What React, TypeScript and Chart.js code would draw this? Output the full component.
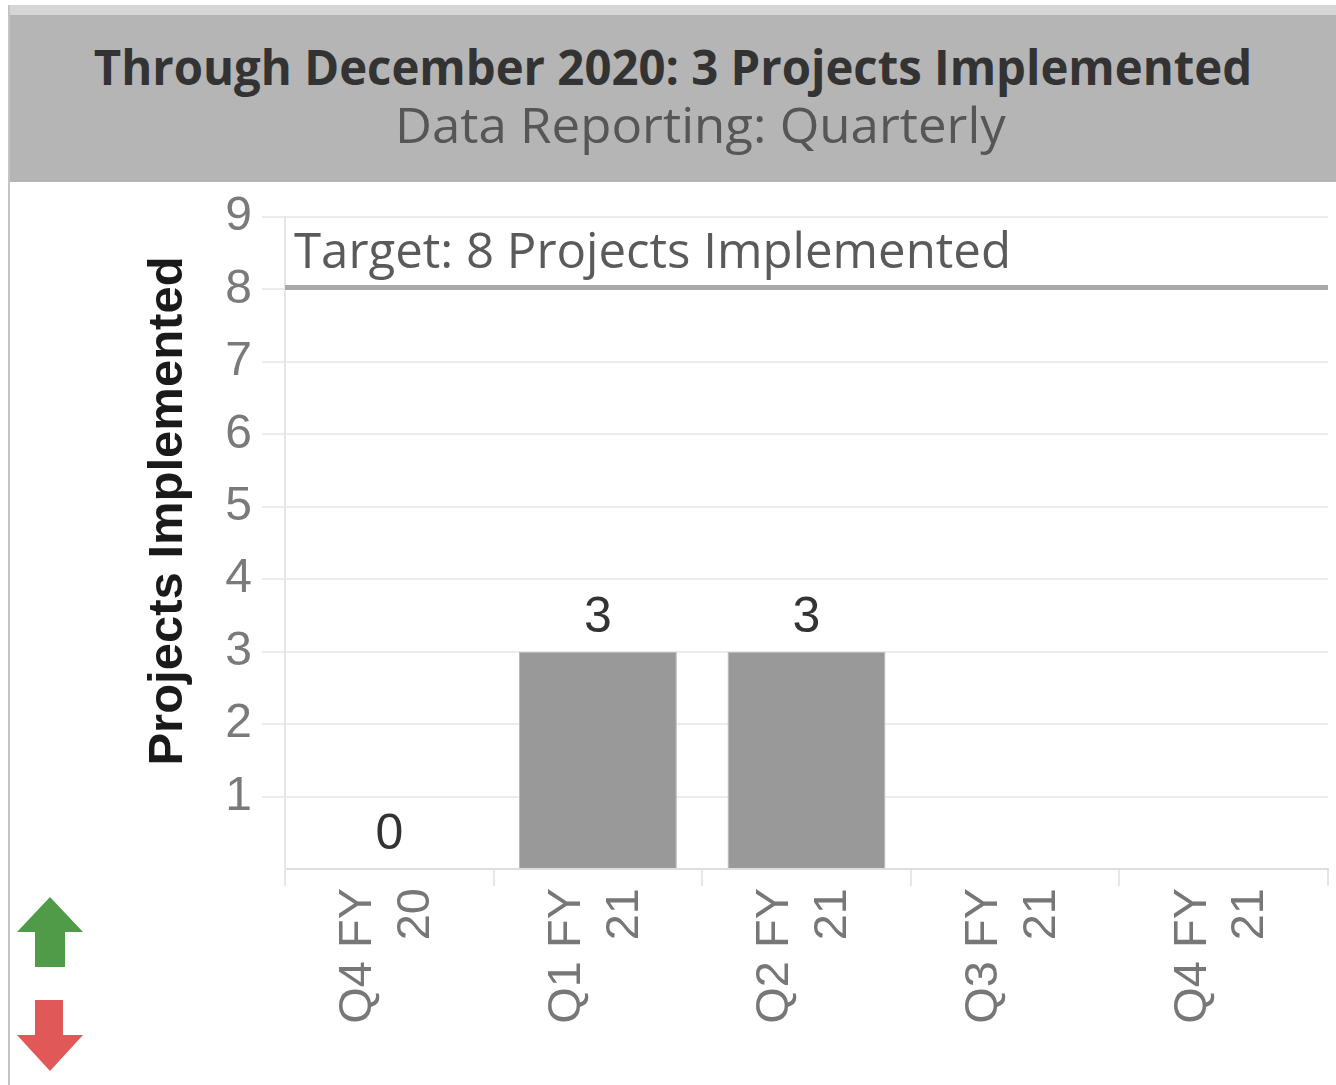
import React, { useEffect, useRef } from "react";
import { Chart, registerables } from "chart.js";

Chart.register(...registerables);

const TITLE = "Through December 2020: 3 Projects Implemented";
const SUBTITLE = "Data Reporting: Quarterly";
const Y_TITLE = "Projects Implemented";
const TARGET_LABEL = "Target: 8 Projects Implemented";
const TARGET_VALUE = 8;

const CATEGORIES: string[][] = [
  ["Q4 FY", "20"],
  ["Q1 FY", "21"],
  ["Q2 FY", "21"],
  ["Q3 FY", "21"],
  ["Q4 FY", "21"],
];
const PROJECTS: (number | null)[] = [0, 3, 3, null, null];
const Y_TICKS: number[] = [0, 1, 2, 3, 4, 5, 6, 7, 8, 9];

const overlayPlugin = {
  id: "overlay",
  afterDatasetsDraw(chart: any) {
    const { ctx, chartArea, scales } = chart;
    const y = scales.y;
    // target line
    const ty = y.getPixelForValue(TARGET_VALUE);
    ctx.save();
    ctx.strokeStyle = "#a9a9a9";
    ctx.lineWidth = 5;
    ctx.beginPath();
    ctx.moveTo(chartArea.left, ty - 2);
    ctx.lineTo(chartArea.right, ty - 2);
    ctx.stroke();
    // target label
    ctx.fillStyle = "#5a5a5a";
    ctx.font = "50px 'Open Sans'";
    ctx.textBaseline = "alphabetic";
    ctx.textAlign = "left";
    ctx.translate(chartArea.left + 9, ty - 21);
    ctx.scale(0.983, 1);
    ctx.fillText(TARGET_LABEL, 0, 0);
    ctx.restore();

    // value labels
    const meta = chart.getDatasetMeta(0);
    ctx.save();
    ctx.fillStyle = "#333333";
    ctx.font = "50px 'Liberation Sans'";
    ctx.textAlign = "center";
    ctx.textBaseline = "alphabetic";
    meta.data.forEach((bar: any, i: number) => {
      const v = PROJECTS[i];
      if (v === null || v === undefined) return;
      ctx.fillText(String(v), bar.x, bar.y - 20);
    });
    ctx.restore();

    // y-axis title
    ctx.save();
    ctx.fillStyle = "#1a1a1a";
    ctx.font = "bold 49px 'Liberation Sans'";
    ctx.textAlign = "center";
    ctx.textBaseline = "middle";
    ctx.translate(158, 329);
    ctx.rotate(-Math.PI / 2);
    ctx.fillText(Y_TITLE, 0, 0);
    ctx.restore();
  },
};

function ChartCanvas() {
  const ref = useRef<HTMLCanvasElement | null>(null);
  useEffect(() => {
    if (!ref.current) return;
    const chart = new Chart(ref.current, {
      type: "bar",
      data: {
        labels: CATEGORIES,
        datasets: [
          {
            data: PROJECTS,
            backgroundColor: "#999999",
            borderColor: "#b8b8b8",
            borderWidth: 1,
            categoryPercentage: 1,
            barPercentage: 0.757,
          },
        ],
      },
      options: {
        animation: false,
        responsive: false,
        maintainAspectRatio: false,
        layout: { padding: { left: 130, top: 35, right: 8, bottom: 0 } },
        plugins: {
          legend: { display: false },
          tooltip: { enabled: false },
          title: { display: false },
        },
        scales: {
          x: {
            afterFit(scale: any) {
              scale.height = 216;
              scale.paddingLeft = 0;
              scale.paddingRight = 0;
            },
            grid: {
              drawOnChartArea: false,
              offset: true,
              tickLength: 17,
              color: "#e6e6e6",
              lineWidth: 2,
            },
            border: { display: true, color: "#dedede", width: 2, dash: [2, 2] },
            ticks: {
              maxRotation: 90,
              minRotation: 90,
              autoSkip: false,
              padding: 2,
              labelOffset: -31,
              color: "#777777",
              font: { family: "'Liberation Sans'", size: 47, lineHeight: 1.23 },
            },
          },
          y: {
            min: 0,
            max: 9,
            afterFit(scale: any) {
              scale.width = 145;
              scale.paddingTop = 0;
              scale.paddingBottom = 0;
            },
            afterBuildTicks(scale: any) {
              scale.ticks = Y_TICKS.map((v) => ({ value: v }));
            },
            grid: {
              color: (c: any) => (c.tick && c.tick.value === 0 ? "rgba(0,0,0,0)" : "#ececec"),
              lineWidth: 2,
              tickLength: 23,
            },
            border: { display: true, color: "#e6e6e6", width: 2 },
            ticks: {
              padding: 10,
              color: "#7a7a7a",
              font: { family: "'Liberation Sans'", size: 48 },
              callback: (v: any) => (v === 0 ? "" : String(v)),
            },
          },
        },
      },
      plugins: [overlayPlugin],
    });
    return () => chart.destroy();
  }, []);
  return (
    <canvas
      ref={ref}
      width={1326}
      height={903}
      style={{ position: "absolute", left: 10, top: 182, width: 1326, height: 903 }}
    />
  );
}

export default function App() {
  return (
    <div style={{ position: "absolute", left: 0, top: 0, width: 1336, height: 1085, overflow: "hidden", background: "#ffffff" }}>
      <div style={{ position: "absolute", left: 8, top: 5, width: 1328, height: 10, background: "#d6d6d6" }} />
      <div style={{ position: "absolute", left: 8, top: 5, width: 2, height: 1080, background: "#c4c4c4" }} />
      <div style={{ position: "absolute", left: 10, top: 15, width: 1326, height: 167, background: "#b5b5b5" }} />
      <div
        style={{
          position: "absolute",
          left: 10,
          top: 39,
          width: 1326,
          height: 56,
          lineHeight: "56px",
          textAlign: "center",
          fontFamily: "'Open Sans', sans-serif",
          fontWeight: 700,
          fontSize: 48,
          color: "#333333",
          whiteSpace: "nowrap",
        }}
      >
        <span style={{ display: "inline-block", transform: "scaleX(0.985)" }}>{TITLE}</span>
      </div>
      <div
        style={{
          position: "absolute",
          left: 37,
          top: 96,
          width: 1326,
          height: 56,
          lineHeight: "56px",
          textAlign: "center",
          fontFamily: "'Open Sans', sans-serif",
          fontWeight: 400,
          fontSize: 50,
          color: "#565656",
          whiteSpace: "nowrap",
        }}
      >
        <span style={{ display: "inline-block", transform: "scaleX(1.02)" }}>{SUBTITLE}</span>
      </div>
      <ChartCanvas />
      <svg style={{ position: "absolute", left: 0, top: 880 }} width={100} height={200} viewBox="0 880 100 200">
        <polygon points="17,932 50,897 83,932 65,932 65,967 35,967 35,932" fill="#4f9b47" />
        <polygon points="35,1000 63,1000 63,1035 83,1035 50,1071 17,1035 35,1035" fill="#e05858" />
      </svg>
    </div>
  );
}
